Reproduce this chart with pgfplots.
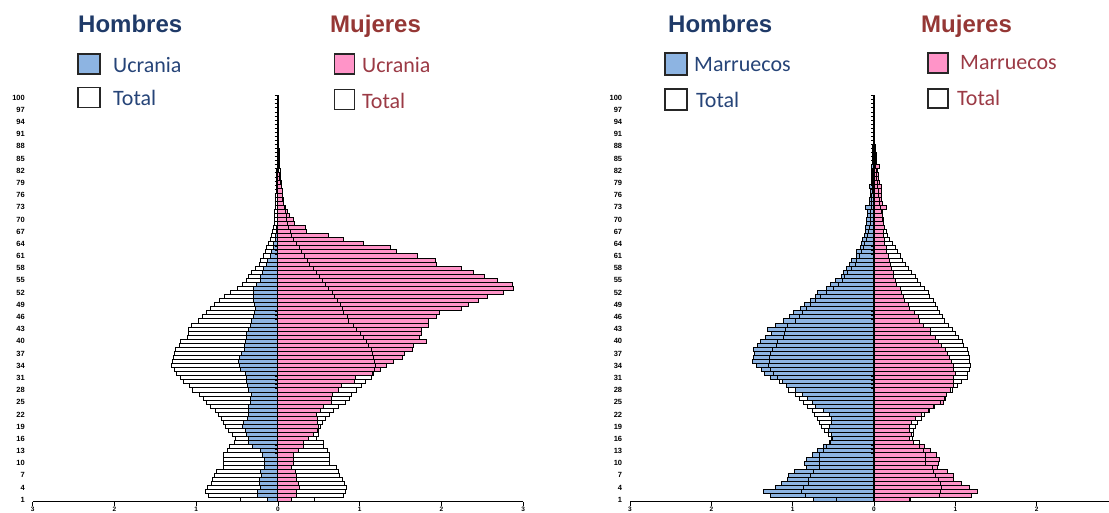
\documentclass[border=0pt]{standalone}
\usepackage{fontspec}
\usepackage{pgfplots}
\usepackage{pgfplotstable}
\pgfplotsset{compat=1.18}
\newfontfamily\lsans{Liberation Sans}
\newfontfamily\carl{Carlito}
\definecolor{hbl}{HTML}{1F3A68}
\definecolor{mrd}{HTML}{953735}
\definecolor{lgb}{HTML}{264478}
\definecolor{lgr}{HTML}{9B3A45}
\definecolor{blfill}{HTML}{8DB4E2}
\definecolor{pkfill}{HTML}{FF94C8}

\pgfplotstableread{
age tm tf um uf mm mf
1 0.46 0.45 0.13 0.17 0.74 0.44
2 0.845 0.80 0.25 0.23 1.27 1.20
3 0.89 0.82 0.25 0.23 1.36 1.275
4 0.865 0.835 0.22 0.26 1.205 1.17
5 0.81 0.815 0.23 0.25 1.135 1.08
6 0.80 0.79 0.23 0.225 1.065 0.98
7 0.78 0.755 0.20 0.225 1.05 0.98
8 0.75 0.735 0.21 0.21 0.98 0.905
9 0.67 0.715 0.16 0.17 0.83 0.78
10 0.67 0.635 0.16 0.185 0.85 0.79
11 0.67 0.635 0.16 0.185 0.835 0.80
12 0.67 0.635 0.19 0.185 0.755 0.77
13 0.62 0.61 0.22 0.25 0.70 0.69
14 0.59 0.56 0.31 0.315 0.62 0.615
15 0.53 0.555 0.355 0.315 0.55 0.48
16 0.52 0.47 0.355 0.375 0.51 0.44
17 0.56 0.49 0.385 0.44 0.52 0.46
18 0.61 0.49 0.40 0.48 0.56 0.44
19 0.645 0.515 0.435 0.50 0.55 0.44
20 0.665 0.54 0.425 0.485 0.52 0.465
21 0.69 0.585 0.375 0.48 0.52 0.515
22 0.73 0.625 0.36 0.47 0.55 0.585
23 0.76 0.68 0.355 0.52 0.62 0.67
24 0.82 0.74 0.36 0.56 0.72 0.73
25 0.87 0.82 0.335 0.65 0.76 0.86
26 0.91 0.875 0.335 0.66 0.82 0.87
27 0.96 0.895 0.33 0.67 0.88 0.89
28 1.05 0.96 0.36 0.74 0.97 0.94
29 1.08 1.025 0.375 0.78 1.07 0.98
30 1.16 1.075 0.385 0.935 1.13 0.98
31 1.19 1.145 0.39 0.95 1.27 0.98
32 1.24 1.15 0.40 1.17 1.35 1.0
33 1.27 1.175 0.46 1.25 1.38 0.98
34 1.30 1.19 0.465 1.33 1.45 0.98
35 1.29 1.175 0.48 1.415 1.50 0.955
36 1.28 1.17 0.465 1.525 1.48 0.93
37 1.27 1.16 0.45 1.545 1.475 0.90
38 1.25 1.145 0.415 1.65 1.48 0.885
39 1.20 1.105 0.415 1.66 1.43 0.83
40 1.19 1.085 0.40 1.815 1.39 0.79
41 1.11 1.04 0.385 1.73 1.34 0.76
42 1.10 1.005 0.385 1.75 1.26 0.69
43 1.09 0.96 0.355 1.76 1.31 0.69
44 1.06 0.92 0.34 1.835 1.205 0.605
45 0.97 0.865 0.33 1.845 1.11 0.565
46 0.92 0.845 0.295 1.94 1.04 0.545
47 0.875 0.805 0.285 1.97 0.99 0.50
48 0.83 0.785 0.28 2.24 0.90 0.435
49 0.78 0.76 0.29 2.335 0.86 0.42
50 0.72 0.73 0.295 2.45 0.78 0.38
51 0.66 0.685 0.30 2.56 0.72 0.36
52 0.58 0.67 0.30 2.755 0.69 0.34
53 0.50 0.615 0.30 2.885 0.58 0.32
54 0.44 0.575 0.265 2.865 0.54 0.28
55 0.39 0.54 0.215 2.68 0.47 0.26
56 0.36 0.51 0.21 2.52 0.40 0.24
57 0.32 0.465 0.195 2.395 0.37 0.24
58 0.28 0.43 0.175 2.25 0.335 0.22
59 0.23 0.385 0.145 1.94 0.30 0.205
60 0.21 0.355 0.125 1.925 0.275 0.19
61 0.18 0.325 0.095 1.70 0.22 0.175
62 0.155 0.285 0.08 1.445 0.21 0.155
63 0.135 0.265 0.06 1.37 0.17 0.15
64 0.115 0.23 0.05 1.05 0.15 0.135
65 0.095 0.195 0.035 0.80 0.14 0.135
66 0.08 0.17 0.025 0.62 0.12 0.115
67 0.065 0.155 0.02 0.35 0.11 0.115
68 0.055 0.13 0.015 0.335 0.10 0.125
69 0.048 0.12 0.012 0.205 0.09 0.115
70 0.045 0.11 0.01 0.19 0.09 0.115
71 0.04 0.10 0.008 0.145 0.08 0.11
72 0.04 0.09 0.008 0.12 0.08 0.11
73 0.035 0.08 0.007 0.09 0.11 0.155
74 0.032 0.07 0.006 0.07 0.05 0.10
75 0.03 0.062 0.006 0.06 0.057 0.095
76 0.027 0.055 0.005 0.06 0.04 0.095
77 0.024 0.05 0.005 0.05 0.037 0.09
78 0.022 0.045 0.004 0.04 0.05 0.09
79 0.02 0.04 0.004 0.03 0.035 0.07
80 0.018 0.035 0.003 0.02 0.03 0.06
81 0.016 0.03 0.003 0.015 0.03 0.05
82 0.014 0.027 0.002 0.012 0.025 0.045
83 0.012 0.024 0.002 0.01 0.03 0.065
84 0.011 0.021 0.002 0.008 0.02 0.03
85 0.01 0.018 0.001 0.006 0.02 0.03
86 0.009 0.016 0.001 0.005 0.018 0.025
87 0.008 0.014 0.001 0.004 0.015 0.02
88 0.007 0.012 0.001 0.003 0.015 0.02
89 0.006 0.01 0 0.002 0.006 0.01
90 0.005 0.009 0 0.002 0.005 0.008
91 0.004 0.008 0 0.001 0.004 0.006
92 0.004 0.007 0 0.001 0.003 0.005
93 0.003 0.006 0 0 0.002 0.004
94 0.003 0.005 0 0 0.002 0.003
95 0.002 0.004 0 0 0.001 0.002
96 0.002 0.003 0 0 0.001 0.002
97 0.001 0.003 0 0 0 0.001
98 0.001 0.002 0 0 0 0.001
99 0.001 0.002 0 0 0 0
100 0.001 0.002 0 0 0 0
}\pyr

\pgfplotsset{
  pyr/.style={
    scale only axis, anchor=south west,
    height=406.1pt,
    xmin=-3, xmax=3, ymin=0.5, ymax=100.5,
    axis x line*=bottom, axis y line*=left,
    y axis line style={draw=none},
    x axis line style={black, line width=0.9pt},
    xtick={-3,-2,-1,0,1,2,3}, xticklabels={3,2,1,0,1,2,3},
    ytick={1,4,...,100},
    tick align=outside, major tick length=4pt,
    xtick style={black, line width=0.9pt},
    ytick style={draw=none},
    yticklabel style={font=\lsans\bfseries\fontsize{7.5}{8}\selectfont, inner sep=0pt, xshift=-3.7pt},
    xticklabel style={font=\lsans\bfseries\fontsize{6.5}{7}\selectfont, inner sep=0pt, yshift=-1.2pt},
    /pgf/number format/assume math mode=true,
  },
  bars/.style={xbar, bar width=1, bar shift=0pt, draw=black, line width=1pt},
  comb/.style={
    scale only axis, anchor=south west,
    height=406.1pt,
    xmin=0, xmax=3, ymin=0.5, ymax=100.5,
    axis x line=none, axis y line*=left,
    y axis line style={black, line width=1.4pt},
    ytick={0.5,1.5,...,100.5}, yticklabels={},
    tick align=outside, major tick length=2.6pt,
    ytick style={black, line width=0.6pt},
  },
}
\tikzset{
  ttl/.style={anchor=base west, inner sep=0pt, font=\lsans\bfseries\fontsize{24}{28}\selectfont},
  lgt/.style={anchor=base west, inner sep=0pt, font=\carl\fontsize{22}{26}\selectfont},
}

\begin{document}
\begin{tikzpicture}[x=1pt,y=1pt]
% ---------------- left panel (Ucrania) ----------------
\begin{axis}[pyr, at={(32.7pt,11.3pt)}, width=490.6pt]
\addplot[bars, fill=blfill] table[x expr=-\thisrow{um}, y=age] {\pyr};
\addplot[bars, fill=pkfill] table[x=uf, y=age] {\pyr};
\addplot[bars, fill=none] table[x expr=-\thisrow{tm}, y=age] {\pyr};
\addplot[bars, fill=none] table[x=tf, y=age] {\pyr};
\end{axis}
\begin{axis}[comb, at={(277.3pt,11.3pt)}, width=245.3pt]
\end{axis}
% ---------------- right panel (Marruecos) ----------------
\begin{axis}[pyr, at={(630pt,11.3pt)}, width=488pt,
  xtick={-3,-2,-1,0,1,2}, xticklabels={3,2,1,0,1,2}]
\addplot[bars, fill=blfill] table[x expr=-\thisrow{mm}, y=age] {\pyr};
\addplot[bars, fill=pkfill] table[x=mf, y=age] {\pyr};
\addplot[bars, fill=none] table[x expr=-\thisrow{tm}, y=age] {\pyr};
\addplot[bars, fill=none] table[x=tf, y=age] {\pyr};
\end{axis}
\begin{axis}[comb, at={(874pt,11.3pt)}, width=244pt]
\end{axis}
% ---------------- titles and legends ----------------
\node[ttl, text=hbl] at (78,480.5) {Hombres};
\node[ttl, text=mrd] at (330,480.5) {Mujeres};
\draw[fill=blfill, draw=black!85, line width=1.2pt] (78,439) rectangle (100,459);
\node[lgt, text=lgb] at (113,440.3) {Ucrania};
\draw[fill=white, draw=black!85, line width=1.2pt] (78,405.7) rectangle (100,425.7);
\node[lgt, text=lgb] at (113,407) {Total};
\draw[fill=pkfill, draw=black!85, line width=1.2pt] (334.3,439) rectangle (354.3,459);
\node[lgt, text=lgr] at (362,440.3) {Ucrania};
\draw[fill=white, draw=black!85, line width=1.2pt] (334.3,403.7) rectangle (354.3,423.7);
\node[lgt, text=lgr] at (362,404) {Total};

\node[ttl, text=hbl] at (668,480.5) {Hombres};
\node[ttl, text=mrd] at (921,480.5) {Mujeres};
\draw[fill=blfill, draw=black!85, line width=1.2pt] (665,438) rectangle (687,460);
\node[lgt, text=lgb] at (694,441) {Marruecos};
\draw[fill=white, draw=black!85, line width=1.2pt] (665,403) rectangle (687,424);
\node[lgt, text=lgb] at (696,405) {Total};
\draw[fill=pkfill, draw=black!85, line width=1.2pt] (928,440) rectangle (948,460);
\node[lgt, text=lgr] at (960,443) {Marruecos};
\draw[fill=white, draw=black!85, line width=1.2pt] (928,405) rectangle (948,424);
\node[lgt, text=lgr] at (957,407) {Total};

\pgfresetboundingbox
\useasboundingbox (0,0) rectangle (1109,513);
\end{tikzpicture}
\end{document}
